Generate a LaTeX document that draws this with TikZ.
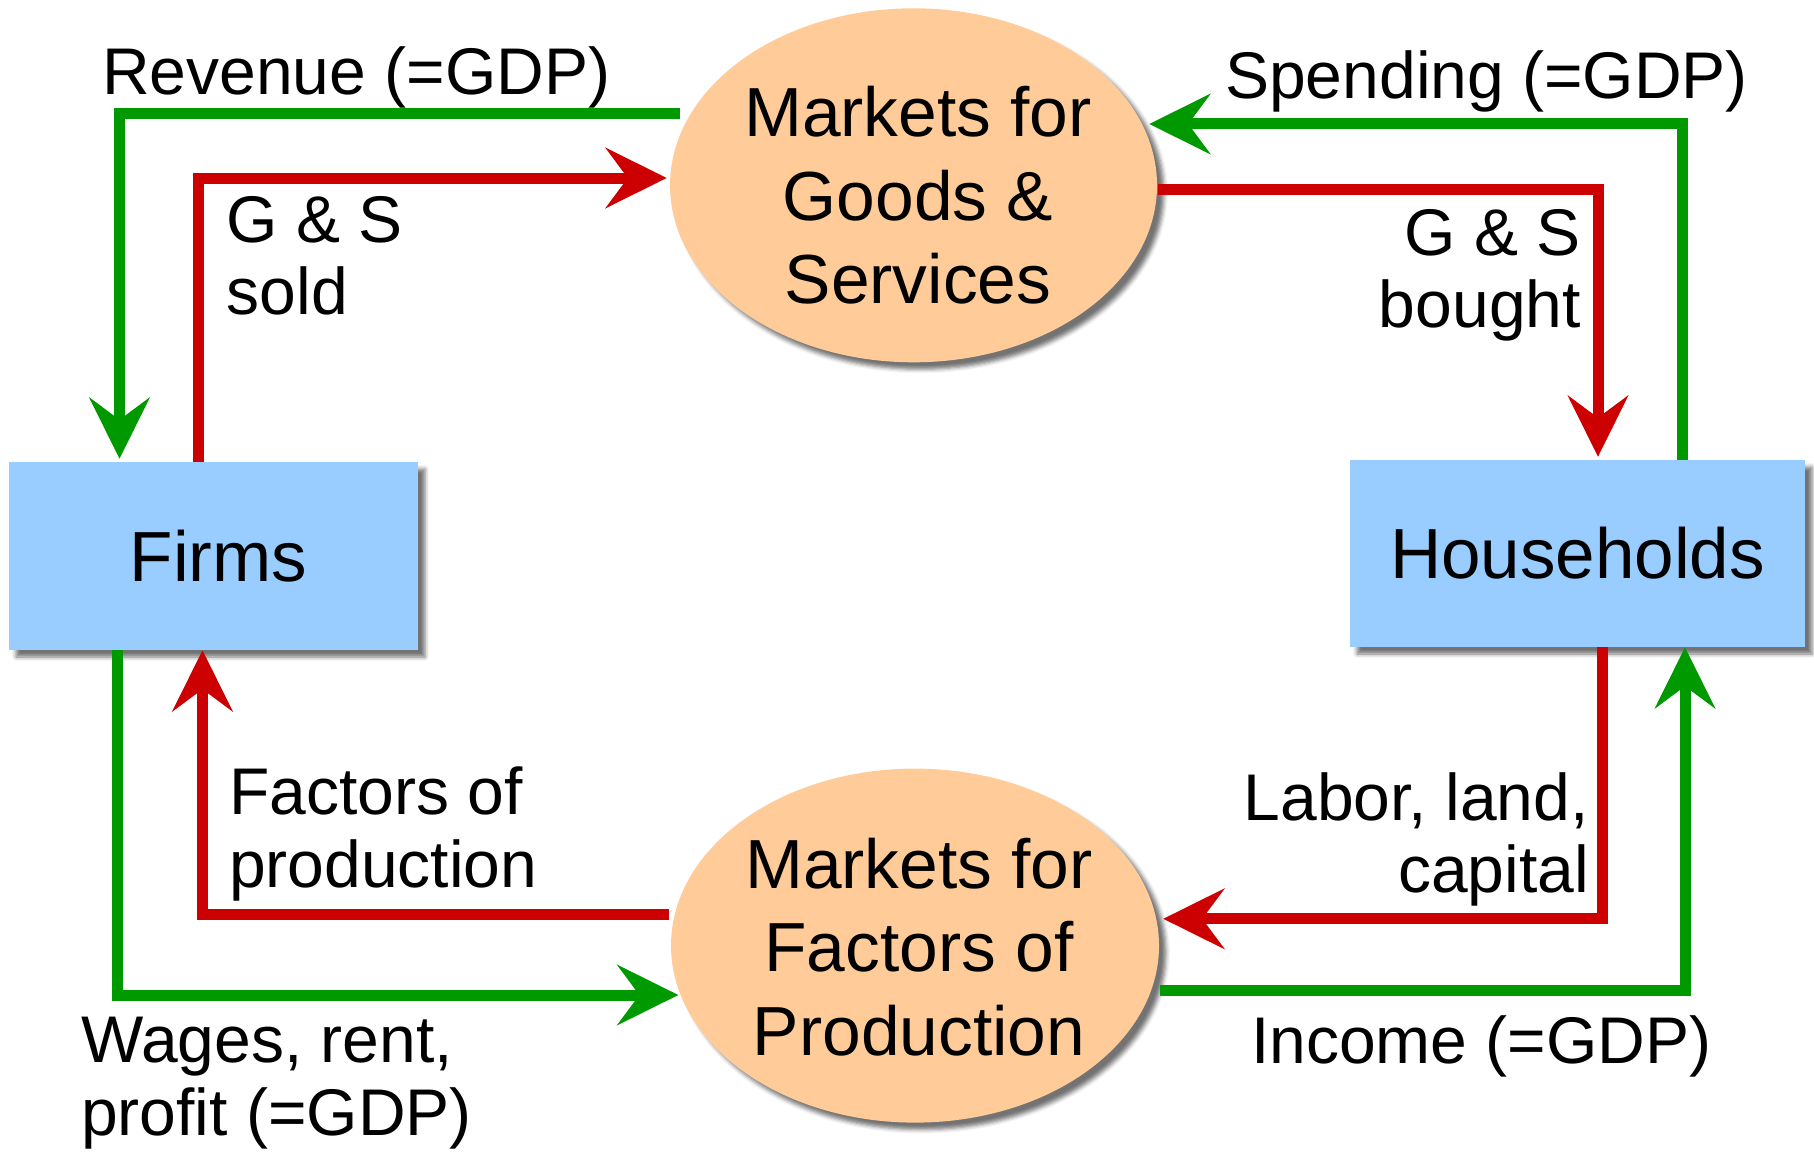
\documentclass[tikz,border=0pt]{standalone}
\usepackage{fontspec}
\setmainfont{Liberation Sans}
\usetikzlibrary{shapes.geometric,arrows.meta,shadows.blur}
\definecolor{gline}{RGB}{0,153,0}
\definecolor{rline}{RGB}{204,0,0}
\definecolor{boxblue}{RGB}{153,204,255}
\definecolor{ellorange}{RGB}{255,204,153}
\begin{document}
\begin{tikzpicture}[x=1pt,y=-1pt,
  flow/.style={line width=11pt, -{Stealth[length=61pt,width=60pt,inset=22pt]}},
  gflow/.style={flow, draw=gline},
  rflow/.style={flow, draw=rline},
  shad/.style={blur shadow={shadow xshift=7pt, shadow yshift=-7pt, shadow blur radius=4pt, shadow opacity=55}},
  agent/.style={rectangle, fill=boxblue, minimum width=409pt, minimum height=188pt, inner sep=0pt, font=\fontsize{71}{85}\selectfont, shad},
  market/.style={ellipse, fill=ellorange, minimum width=487pt, minimum height=354pt, inner sep=0pt, shad},
  mtext/.style={align=center, font=\fontsize{69.5}{83.2}\selectfont, inner sep=0pt},
  lbl/.style={inner sep=0pt, font=\fontsize{66}{72.5}\selectfont}
]
\useasboundingbox (0,0) rectangle (1814,1153);

\node[agent] (firms) at (213.5,556) {\kern10pt Firms};
\node[agent, minimum width=455pt, minimum height=187pt] (hh) at (1577.5,553.5) {Households};
\node[market] (gs) at (913.5,185.3) {};
\node[market, minimum width=488pt] (fp) at (915,945.6) {};
\node[mtext] (gstext) at ([xshift=4.5pt,yshift=-10pt]gs.center) {Markets for\\Goods \&\\Services};
\node[mtext] (fptext) at ([xshift=4pt,yshift=-1.5pt]fp.center) {Markets for\\Factors of\\Production};

% connectors
\draw[gflow] ([xshift=10pt,yshift=71.3pt]gs.west) -| ([xshift=-94pt,yshift=3pt]firms.north);
\draw[rflow] ([xshift=-15pt]firms.north) |- ([xshift=-3pt,yshift=7.3pt]gs.west);
\draw[gflow] ([xshift=104.5pt]hh.north) |- ([xshift=-8pt,yshift=61.3pt]gs.east);
\draw[rflow] ([xshift=1pt,yshift=-4pt]gs.east) -| ([xshift=20.5pt,yshift=3pt]hh.north);
\draw[rflow] ([xshift=24.5pt]hh.south) |- ([xshift=4pt,yshift=26.8pt]fp.east);
\draw[gflow] ([xshift=1pt,yshift=-44.4pt]fp.east) -| ([xshift=107.5pt]hh.south);
\draw[rflow] ([xshift=-2pt,yshift=31.6pt]fp.west) -| ([xshift=-11pt]firms.south);
\draw[gflow] ([xshift=-96.5pt]firms.south) |- ([xshift=7.6pt,yshift=-49.4pt]fp.west);

% labels
\node[lbl, anchor=base west] (rev) at (102,95) {Revenue (=GDP)};
\node[lbl, anchor=north west, align=left] (gssold) at (226.5,196) {G \& S\\sold};
\node[lbl, anchor=base west] (spend) at (1225,99) {Spending (=GDP)};
\node[lbl, anchor=north east, align=right] (gsbought) at (1581,209) {G \& S\\bought};
\node[lbl, anchor=north west, align=left] (fop) at (229,767) {Factors of\\production};
\node[lbl, anchor=north west, align=left] (wages) at (81,1017) {Wages, rent,\\profit (=GDP)};
\node[lbl, anchor=north east, align=right] (labor) at (1589,772) {Labor, land,\\capital};
\node[lbl, anchor=base west] (income) at (1251,1063) {Income (=GDP)};
\end{tikzpicture}
\end{document}
